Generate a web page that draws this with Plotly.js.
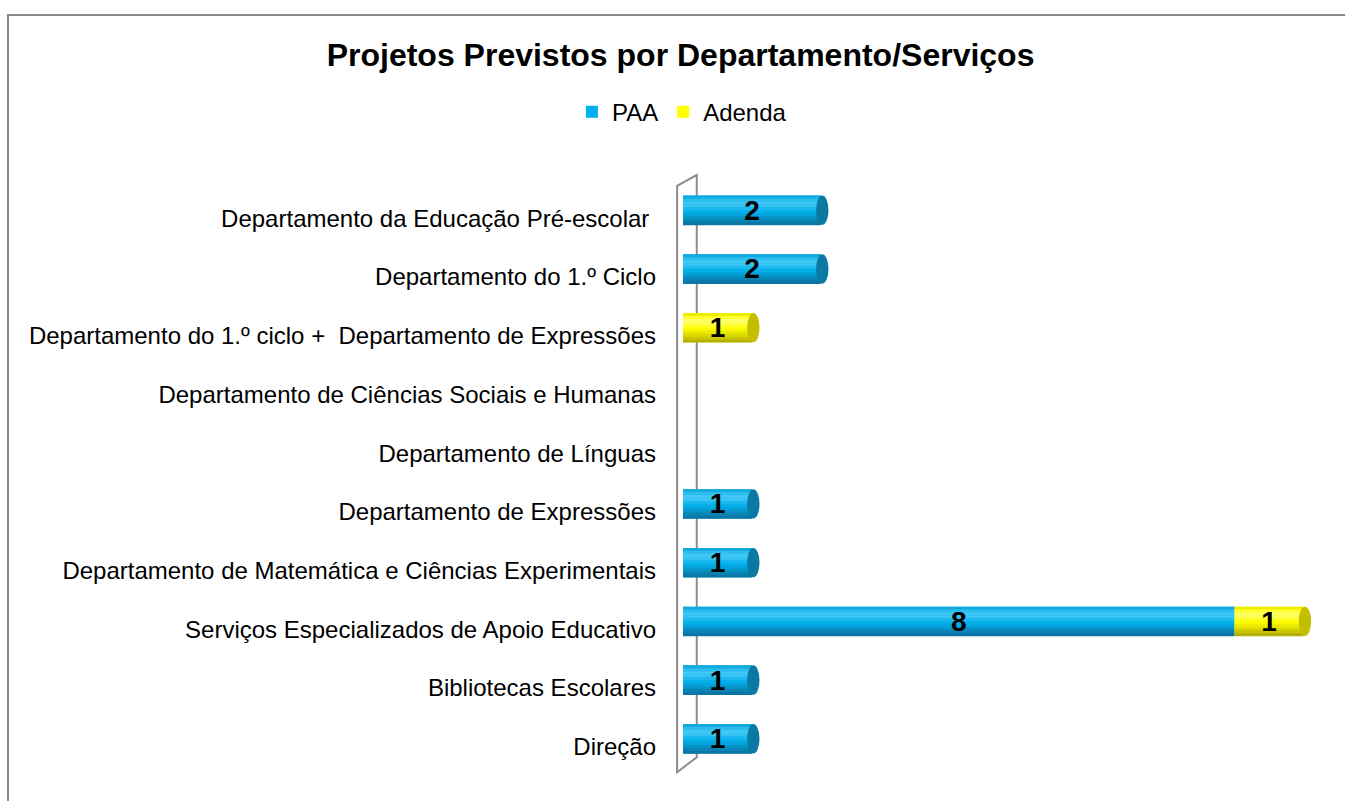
<!DOCTYPE html>
<html>
<head>
<meta charset="utf-8">
<script src="https://cdn.plot.ly/plotly-3.0.1.min.js"></script>
<style>
  html, body { margin: 0; padding: 0; overflow: hidden; background: #fff; }
  #chart { width: 1345px; height: 801px; }
  #frame { position: absolute; left: 7px; top: 14px; width: 1400px; height: 900px;
           border-left: 2px solid #8a8a8a; border-top: 2px solid #8a8a8a; pointer-events: none; }
</style>
</head>
<body>
<div id="chart"></div>
<div id="frame"></div>
<script>
const categories = [
  "Departamento da Educação Pré-escolar ",
  "Departamento do 1.º Ciclo",
  "Departamento do 1.º ciclo +  Departamento de Expressões",
  "Departamento de Ciências Sociais e Humanas",
  "Departamento de Línguas",
  "Departamento de Expressões",
  "Departamento de Matemática e Ciências Experimentais",
  "Serviços Especializados de Apoio Educativo",
  "Bibliotecas Escolares",
  "Direção"
];
const paa    = [2, 2, 0, 0, 0, 1, 1, 8, 1, 1];
const adenda = [0, 0, 1, 0, 0, 0, 0, 1, 0, 0];
const seriesNames = ["PAA", "Adenda"];

const positions = categories.map((_, i) => i);
const fontFam = "Liberation Sans, Arial, sans-serif";
const zeroBase = paa.map(() => 0);
const adendaBase = paa.slice();

// gradient bands from top to bottom of each cylinder (style only)
const blueGradient = ["#12a9dd", "#2bbdee", "#3fc8f5", "#38c5f4", "#1cb8f0", "#06aeea", "#03a3dd", "#0593c8", "#0883b4", "#0a76a3"];
const yellowGradient = ["#eded00", "#ffff30", "#ffff66", "#ffff55", "#ffff20", "#fafa00", "#ecea00", "#dcd800", "#c9c500", "#b5b000"];
const blueCap = "#0b7aa3", yellowCap = "#c4be00";
const blueLegend = "#00b0f0", yellowLegend = "#ffff00";

function labelText(arr) { return arr.map(v => v ? String(v) : ""); }

function seriesTraces(name, values, base, gradient, legendColor) {
  const out = [{
    type: "bar", orientation: "h", name: name,
    x: values, base: base, y: positions, width: 0.5, offset: -0.25,
    marker: { color: legendColor, line: { width: 0 } },
    hoverinfo: "skip"
  }];
  const n = gradient.length, w = 0.5 / n;
  gradient.forEach((c, k) => out.push({
    type: "bar", orientation: "h", showlegend: false,
    x: values, base: base, y: positions, width: w + 0.004, offset: -0.25 + k * w,
    marker: { color: c, line: { width: 0 } },
    hoverinfo: "skip"
  }));
  return out;
}

function textTrace(values, base) {
  return {
    type: "bar", orientation: "h", showlegend: false,
    x: values, base: base, y: positions, width: 0.5, offset: -0.25,
    marker: { color: "rgba(0,0,0,0)", line: { width: 0 } },
    text: labelText(values), texttemplate: "<b>%{text}</b>",
    textposition: "inside", insidetextanchor: "middle", textangle: 0,
    constraintext: "none",
    textfont: { family: fontFam, size: 28, color: "#000" },
    hoverinfo: "skip"
  };
}

const traces = [
  ...seriesTraces(seriesNames[0], paa, zeroBase, blueGradient, blueLegend),
  ...seriesTraces(seriesNames[1], adenda, adendaBase, yellowGradient, yellowLegend),
  textTrace(paa, zeroBase),
  textTrace(adenda, adendaBase)
];

const shapes = [];
// side wall of the 3D plot
shapes.push({
  type: "path", xref: "paper", yref: "paper", layer: "below",
  path: "M -0.009,0.003 L -0.009,0.982 L 0.021,1.0 L 0.021,0.028 Z",
  line: { color: "#8c8c8c", width: 2 }, fillcolor: "rgba(0,0,0,0)"
});
// cylinder ends derived from the data
positions.forEach(i => {
  const total = paa[i] + adenda[i];
  if (total > 0) {
    const firstColor = paa[i] ? "#1cb8f0" : "#ffff20";
    shapes.push({
      type: "circle", xref: "x", yref: "y", layer: "below",
      x0: -0.04, x1: 0.04, y0: i - 0.25, y1: i + 0.25,
      fillcolor: firstColor, line: { width: 0 }
    });
    const capColor = adenda[i] ? yellowCap : blueCap;
    shapes.push({
      type: "circle", xref: "x", yref: "y", layer: "above",
      x0: total - 0.07, x1: total + 0.11, y0: i - 0.25, y1: i + 0.25,
      fillcolor: capColor, line: { width: 0 }
    });
  }
});

const layout = {
  width: 1345, height: 801,
  margin: { l: 683, r: 7, t: 175, b: 27 },
  paper_bgcolor: "#fff", plot_bgcolor: "rgba(0,0,0,0)",
  barmode: "overlay",
  title: {
    text: "<b>Projetos Previstos por Departamento/Serviços</b>",
    font: { family: fontFam, size: 32, color: "#000" },
    x: 0.506, xanchor: "center", xref: "container",
    y: 0.931, yanchor: "middle", yref: "container"
  },
  showlegend: true,
  legend: {
    orientation: "h", traceorder: "normal",
    x: 0.507, xanchor: "center", xref: "container",
    y: 0.86, yanchor: "middle", yref: "container",
    font: { family: fontFam, size: 24, color: "#000" },
    itemwidth: 30
  },
  xaxis: {
    range: [0, 9.5], visible: false, showgrid: false, zeroline: false, fixedrange: true
  },
  yaxis: {
    range: [9.6, -0.6], tickvals: positions, ticktext: categories,
    showgrid: false, zeroline: false, showline: false, ticks: "",
    ticklabelstandoff: 26, ticklabelshift: -8,
    tickfont: { family: fontFam, size: 24, color: "#000" },
    fixedrange: true
  },
  shapes: shapes
};

Plotly.newPlot("chart", traces, layout, { displayModeBar: false, staticPlot: true });
</script>
</body>
</html>
